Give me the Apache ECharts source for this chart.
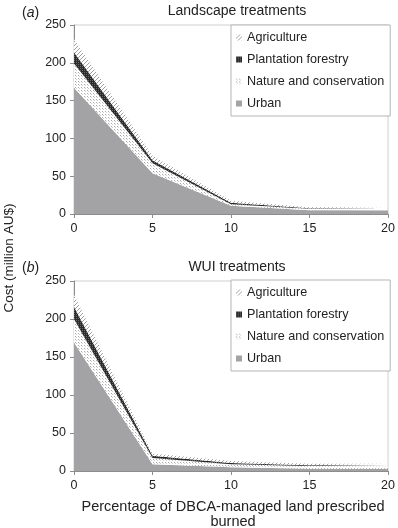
<!DOCTYPE html>
<html>
<head>
<meta charset="utf-8">
<script src="https://cdn.jsdelivr.net/npm/echarts@6/dist/echarts.min.js"></script>
<style>
  html, body { margin: 0; padding: 0; background: #fff; }
  #main { width: 398px; height: 528px; }
</style>
</head>
<body>
<div id="main"></div>
<script>
// 数据（百万澳元），按堆叠顺序：城市在最下
var xLabels = ['0', '5', '10', '15', '20'];
var seriesNames = ['Urban', 'Nature and conservation', 'Plantation forestry', 'Agriculture'];
var legendOrder = ['Agriculture', 'Plantation forestry', 'Nature and conservation', 'Urban'];

// (a) Landscape treatments
var landUrban = [167, 54, 11, 5, 4.5];
var landNature = [32, 13, 2, 2, 1];
var landPlantation = [15, 4, 2, 0.5, 1];
var landAgriculture = [17, 6, 2.5, 1.5, 2];

// (b) WUI treatments
var wuiUrban = [169, 9, 5, 3, 3];
var wuiNature = [31, 8, 4, 3.5, 3];
var wuiPlantation = [16, 3, 1.5, 1, 1];
var wuiAgriculture = [16, 3, 2.5, 2, 2.5];

// 填充图案
function makePattern(size, draw) {
    var c = document.createElement('canvas');
    c.width = size; c.height = size;
    var ctx = c.getContext('2d');
    draw(ctx);
    return { image: c, repeat: 'repeat' };
}
var patAgri = makePattern(4, function (ctx) {
    ctx.fillStyle = '#ffffff'; ctx.fillRect(0, 0, 4, 4);
    ctx.fillStyle = '#a0a0a0';
    for (var i = 0; i < 4; i++) ctx.fillRect(3 - i, i, 1, 1);
});
var patPlant = makePattern(2, function (ctx) {
    ctx.fillStyle = '#2a2a2a'; ctx.fillRect(0, 0, 2, 2);
    ctx.fillStyle = '#6a6a6a'; ctx.fillRect(0, 0, 1, 1);
});
var patNature = makePattern(3, function (ctx) {
    ctx.fillStyle = '#ffffff'; ctx.fillRect(0, 0, 3, 3);
    ctx.fillStyle = '#a8a8a8'; ctx.fillRect(0, 0, 1, 1);
    ctx.fillStyle = '#d0d0d0'; ctx.fillRect(1, 1, 1, 1);
});
var colors = {
    'Urban': '#a3a3a6',
    'Nature and conservation': patNature,
    'Plantation forestry': patPlant,
    'Agriculture': patAgri
};

var myChart = echarts.init(document.getElementById('main'), null, { renderer: 'canvas' });

var font = 'Liberation Sans, Arial, sans-serif';

function makeSeries(gridIdx, dataList) {
    return seriesNames.map(function (name, i) {
        return {
            name: name,
            type: 'line',
            xAxisIndex: gridIdx,
            yAxisIndex: gridIdx,
            stack: 'g' + gridIdx,
            showSymbol: false,
            symbol: 'none',
            lineStyle: { width: 0 },
            color: colors[name],
            itemStyle: { color: colors[name] },
            areaStyle: { color: colors[name], opacity: 1 },
            data: dataList[i],
            silent: true
        };
    });
}

function xAx(gridIdx) {
    return {
        type: 'category',
        gridIndex: gridIdx,
        data: xLabels,
        boundaryGap: false,
        axisLine: { lineStyle: { color: '#8c8c8c', width: 1 } },
        axisTick: { show: true, length: 4, lineStyle: { color: '#8c8c8c' } },
        axisLabel: { color: '#222', fontSize: 12.5, fontFamily: font, margin: 8 },
        splitLine: { show: false }
    };
}
function yAx(gridIdx) {
    return {
        type: 'value',
        gridIndex: gridIdx,
        min: 0, max: 250, interval: 50,
        axisLine: { show: true, lineStyle: { color: '#8c8c8c', width: 1 } },
        axisTick: { show: true, length: 4, lineStyle: { color: '#8c8c8c' } },
        axisLabel: { color: '#222', fontSize: 12.5, fontFamily: font, margin: 8 },
        splitLine: { show: false }
    };
}
function legendAt(top) {
    return {
        data: legendOrder,
        orient: 'vertical',
        left: 231,
        top: top,
        icon: 'rect',
        itemWidth: 6,
        itemHeight: 6,
        itemGap: 9,
        padding: [6, 6, 6, 5],
        backgroundColor: '#fff',
        borderColor: '#b5b5b5',
        borderWidth: 1,
        borderRadius: 0,
        selectedMode: false,
        textStyle: { color: '#222', fontSize: 12.6, fontFamily: font }
    };
}

var option = {
    animation: false,
    backgroundColor: '#fff',
    title: [
        { text: 'Landscape treatments', left: 232, top: -1, textAlign: 'center',
          textStyle: { fontSize: 14, fontWeight: 'normal', color: '#222', fontFamily: font } },
        { text: 'WUI treatments', left: 232, top: 255, textAlign: 'center',
          textStyle: { fontSize: 14, fontWeight: 'normal', color: '#222', fontFamily: font } }
    ],
    grid: [
        { left: 74, top: 25, width: 316, height: 189, show: true, borderColor: '#cfcfcf', borderWidth: 1, backgroundColor: 'transparent' },
        { left: 74, top: 281, width: 317, height: 190, show: true, borderColor: '#cfcfcf', borderWidth: 1, backgroundColor: 'transparent' }
    ],
    legend: [legendAt(25), legendAt(280)],
    xAxis: [xAx(0), xAx(1)],
    yAxis: [yAx(0), yAx(1)],
    series: makeSeries(0, [landUrban, landNature, landPlantation, landAgriculture])
        .concat(makeSeries(1, [wuiUrban, wuiNature, wuiPlantation, wuiAgriculture])),
    graphic: [
        { type: 'text', left: 22, top: 6,
          style: { text: '({i|a})', font: '14px ' + font, fill: '#222',
                   rich: { i: { fontStyle: 'italic', fontSize: 14, fontFamily: font, fill: '#222' } } } },
        { type: 'text', left: 22, top: 261,
          style: { text: '({i|b})', font: '14px ' + font, fill: '#222',
                   rich: { i: { fontStyle: 'italic', fontSize: 14, fontFamily: font, fill: '#222' } } } },
        { type: 'text', x: 9, y: 258, rotation: Math.PI / 2,
          style: { text: 'Cost (million AU$)', font: '13.5px ' + font, fill: '#222',
                   align: 'center', verticalAlign: 'middle' } },
        { type: 'text', x: 233, y: 507,
          style: { text: 'Percentage of DBCA-managed land prescribed', font: '14.5px ' + font, fill: '#222',
                   align: 'center', verticalAlign: 'middle' } },
        { type: 'text', x: 233, y: 522,
          style: { text: 'burned', font: '14.5px ' + font, fill: '#222',
                   align: 'center', verticalAlign: 'middle' } }
    ]
};

myChart.setOption(option);
</script>
</body>
</html>
